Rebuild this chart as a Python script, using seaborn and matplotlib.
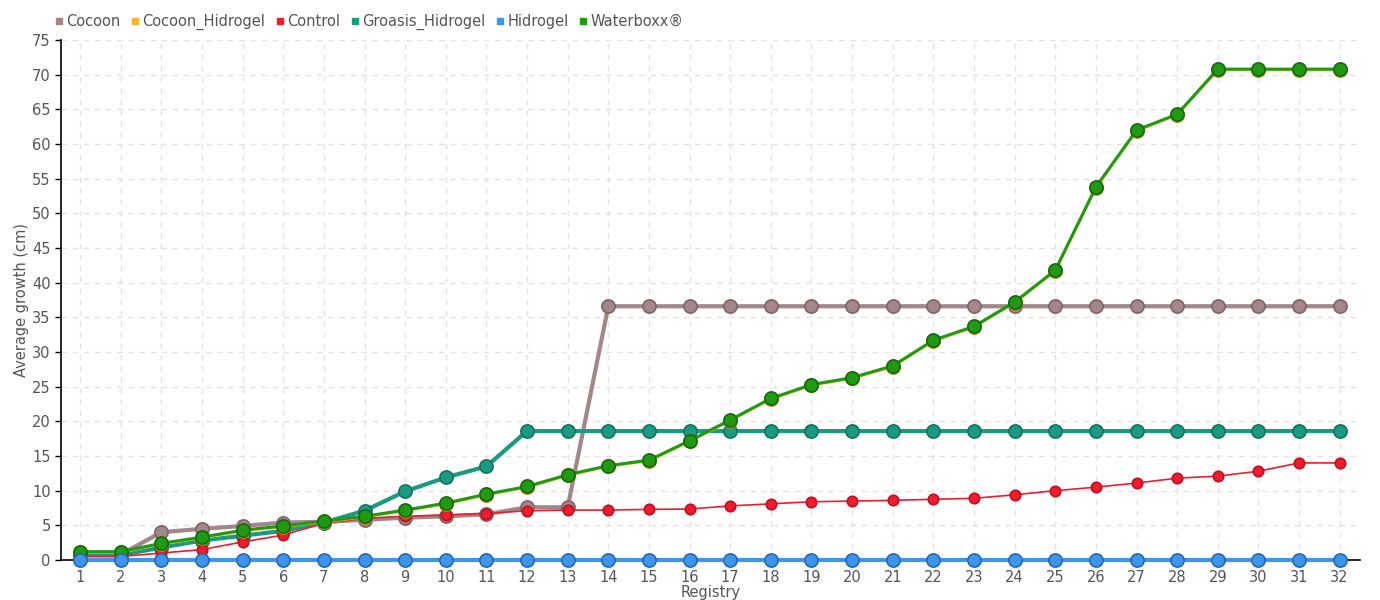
import pandas as pd
import seaborn as sns
import matplotlib.pyplot as plt

sns.set_theme(style="white")
plt.rcParams['font.family'] = ['Liberation Sans Narrow', 'DejaVu Sans']

# --- Data ---
registry = list(range(1, 33))

cocoon = [0.8, 0.8, 4.0, 4.5, 4.9, 5.4, 5.5, 5.8, 6.1, 6.3, 6.6, 7.6, 7.6,
          36.6, 36.6, 36.6, 36.6, 36.6, 36.6, 36.6, 36.6, 36.6, 36.6, 36.6,
          36.6, 36.6, 36.6, 36.6, 36.6, 36.6, 36.6, 36.6]
waterboxx = [1.2, 1.2, 2.4, 3.3, 4.3, 4.9, 5.6, 6.3, 7.2, 8.2, 9.5, 10.6, 12.3,
             13.6, 14.4, 17.2, 20.2, 23.3, 25.3, 26.3, 28.0, 31.7, 33.7, 37.2,
             41.8, 53.8, 62.0, 64.3, 70.8, 70.8, 70.8, 70.8]
cocoon_hidrogel = [1.1, 1.1, 2.3, 3.2, 4.2, 4.8, 5.5, 6.2, 7.1, 8.1, 9.4, 10.5, 12.2,
                   13.5, 14.3, 17.1, 20.1, 23.2, 25.2, 26.2, 27.9, 31.6, 33.6, 37.1,
                   41.7, 53.7, 61.9, 64.2, 70.7, 70.7, 70.7, 70.7]
control = [0.5, 0.5, 1.0, 1.5, 2.6, 3.6, 5.3, 6.0, 6.3, 6.5, 6.7, 7.1, 7.2,
           7.2, 7.3, 7.35, 7.8, 8.1, 8.4, 8.5, 8.6, 8.75, 8.9, 9.4,
           10.0, 10.5, 11.1, 11.8, 12.1, 12.8, 14.0, 14.0]
groasis = [0.7, 0.7, 1.8, 2.8, 3.5, 4.2, 5.4, 7.1, 9.9, 11.9, 13.5, 18.6, 18.6,
           18.6, 18.6, 18.6, 18.6, 18.6, 18.6, 18.6, 18.6, 18.6, 18.6, 18.6,
           18.6, 18.6, 18.6, 18.6, 18.6, 18.6, 18.6, 18.6]
hidrogel = [0.0] * 32

series = ['Cocoon', 'Cocoon_Hidrogel', 'Control', 'Groasis_Hidrogel', 'Hidrogel', 'Waterboxx®']
values = [cocoon, cocoon_hidrogel, control, groasis, hidrogel, waterboxx]

df = pd.DataFrame({
    'Registry': registry * len(series),
    'Growth': [v for vals in values for v in vals],
    'Treatment': [s for s in series for _ in registry],
})

# style per series: color, edge color, line width, marker size
styles = {
    'Cocoon':           ('#a2868a', '#7e6468', 3.0, 9.5),
    'Cocoon_Hidrogel':  ('#f5b731', '#c08a10', 2.0, 9.5),
    'Control':          ('#ee1c2e', '#c0101e', 1.2, 7.5),
    'Groasis_Hidrogel': ('#1a9a80', '#13725e', 3.0, 9.5),
    'Hidrogel':         ('#3d95ec', '#2468b0', 3.0, 9.5),
    'Waterboxx®':       ('#1f9a12', '#146a0b', 2.2, 9.5),
}
draw_order = ['Cocoon', 'Groasis_Hidrogel', 'Control', 'Cocoon_Hidrogel', 'Waterboxx®', 'Hidrogel']

fig = plt.figure(figsize=(13.8, 6), dpi=100)
ax = fig.add_axes([0.0442, 0.0667, 0.9413, 0.8666])

for i, name in enumerate(draw_order):
    color, edge, lw, ms = styles[name]
    sub = df[df['Treatment'] == name]
    sns.lineplot(data=sub, x='Registry', y='Growth', ax=ax, color=color,
                 linewidth=lw, marker='o', markersize=ms, markeredgecolor=edge,
                 markeredgewidth=1.2, legend=False, clip_on=False, zorder=3 + i)

ax.set_xlim(0.53, 32.5)
ax.set_ylim(0, 75)
ax.set_xticks(registry)
ax.set_yticks(range(0, 80, 5))
ax.grid(True, linestyle=(0, (4, 4)), color='#e3e3e3', linewidth=1)
ax.set_axisbelow(True)

for side in ['top', 'right']:
    ax.spines[side].set_visible(False)
for side in ['left', 'bottom']:
    ax.spines[side].set_color('black')
    ax.spines[side].set_linewidth(1.2)

ax.tick_params(axis='both', colors='#555555', labelsize=10.5, length=4, width=1,
               left=True, bottom=False, color='black')
ax.tick_params(axis='x', pad=3)
ax.set_xlabel('Registry', color='#555555', fontsize=10.5, labelpad=0)
ax.set_ylabel('Average growth (cm)', color='#555555', fontsize=10.5, labelpad=2)

handles = [plt.Line2D([], [], linestyle='none', marker='s', markersize=5,
                      color=styles[s][0]) for s in series]
ax.legend(handles, series, loc='lower left', bbox_to_anchor=(-0.015, 1.0),
          ncol=6, frameon=False, fontsize=10.5, handletextpad=0.0,
          columnspacing=0.5, handlelength=1.0, borderpad=0.2, labelcolor='#555555')

fig.savefig('out.png', dpi=100)
